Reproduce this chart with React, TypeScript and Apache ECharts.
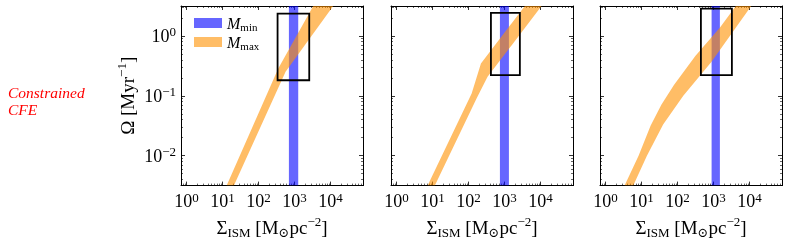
import React, { useEffect, useRef } from 'react';
import * as echarts from 'echarts';

// Axis ranges
const X_MIN = 0.7;
const X_MAX = 8e4;
const Y_MIN = 0.003162;
const Y_MAX = 3.162;

// M_max band (orange): upper/left edge and lower/right edge, [Σ_ISM, Ω]
const band1Upper = [[13.0, Y_MIN], [353, 0.286], [3310, Y_MAX]];
const band1Lower = [[20.7, Y_MIN], [564, 0.251], [11900, Y_MAX]];
const band2Upper = [[7.3, Y_MIN], [122, 0.109], [221, 0.346], [3680, Y_MAX]];
const band2Lower = [[11.6, Y_MIN], [167, 0.0903], [338, 0.2075], [10700, Y_MAX]];
const band3Upper = [[3.38, Y_MIN], [8.26, 0.01], [17.8, 0.0316], [35.5, 0.0708], [79.4, 0.151], [316, 0.468], [1514, 1.38], [4170, Y_MAX]];
const band3Lower = [[5.89, Y_MIN], [14.1, 0.01], [39.8, 0.0331], [144.5, 0.1], [881, 0.3715], [11170, Y_MAX]];

// M_min band (blue): Σ_ISM range
const mmin1 = [698, 1268];
const mmin2 = [745, 1325];
const mmin3 = [884, 1503];

// Constraint boxes: [Σ_lo, Ω_lo, Σ_hi, Ω_hi]
const box1 = [338, 0.182, 2565, 2.36];
const box2 = [419, 0.221, 2670, 2.42];
const box3 = [446, 0.221, 3240, 2.86];

const xTickExps = [0, 1, 2, 3, 4];
const yTickExps = [-2, -1, 0];

const SERIF = '"Liberation Serif", "DejaVu Serif", serif';
const BLUE = 'rgba(0,0,255,0.6)';
const ORANGE = 'rgba(255,145,0,0.6)';

const GRID_LEFTS = [181, 391, 600];

const supText = (e: number) => (e < 0 ? '\u2212' + -e : String(e));

function tickFormatter(allowed: number[]) {
  return (v: number) => {
    const e = Math.log10(v);
    const r = Math.round(e);
    if (Math.abs(e - r) > 1e-6 || allowed.indexOf(r) < 0) return '';
    return `{b|10}{s|${supText(r)}}`;
  };
}

const tickRich = {
  b: { fontSize: 18, lineHeight: 21, color: '#000', fontFamily: SERIF },
  s: { fontSize: 13, lineHeight: 13, verticalAlign: 'top', color: '#000', fontFamily: SERIF },
};

function bandSeries(p: number, name: string, upper: number[][], lower: number[][]) {
  return {
    type: 'custom',
    name,
    coordinateSystem: 'cartesian2d',
    xAxisIndex: 2 * p,
    yAxisIndex: 2 * p,
    clip: true,
    z: 3,
    itemStyle: { color: ORANGE },
    data: [[upper[0][0], upper[0][1]]],
    renderItem: (_params: any, api: any) => {
      const pts = upper.concat(lower.slice().reverse()).map((d) => api.coord(d));
      return { type: 'polygon', shape: { points: pts }, style: { fill: ORANGE } };
    },
  };
}

function mminSeries(p: number, name: string, range: number[]) {
  return {
    type: 'custom',
    name,
    coordinateSystem: 'cartesian2d',
    xAxisIndex: 2 * p,
    yAxisIndex: 2 * p,
    clip: true,
    z: 2,
    itemStyle: { color: BLUE },
    data: [[range[0], range[1]]],
    renderItem: (_params: any, api: any) => {
      const a = api.coord([api.value(0), Y_MAX]);
      const b = api.coord([api.value(1), Y_MIN]);
      return { type: 'rect', shape: { x: a[0], y: a[1], width: b[0] - a[0], height: b[1] - a[1] }, style: { fill: BLUE } };
    },
  };
}

function boxSeries(p: number, box: number[]) {
  return {
    type: 'custom',
    name: 'box' + p,
    coordinateSystem: 'cartesian2d',
    xAxisIndex: 2 * p,
    yAxisIndex: 2 * p,
    z: 4,
    data: [box],
    renderItem: (_params: any, api: any) => {
      const a = api.coord([api.value(0), api.value(3)]);
      const b = api.coord([api.value(2), api.value(1)]);
      return {
        type: 'rect',
        shape: { x: a[0], y: a[1], width: b[0] - a[0], height: b[1] - a[1] },
        style: { fill: 'none', stroke: '#000', lineWidth: 1.8 },
      };
    },
  };
}

function makeXAxis(p: number, top: boolean) {
  return {
    type: 'log',
    logBase: 10,
    gridIndex: p,
    min: X_MIN,
    max: X_MAX,
    position: top ? 'top' : 'bottom',
    axisLine: { show: true, onZero: false, lineStyle: { color: '#000', width: 1 } },
    axisTick: { show: true, inside: true, length: 4, lineStyle: { color: '#000', width: 0.8 } },
    minorTick: { show: true, splitNumber: 9, length: 2, lineStyle: { color: '#000', width: 0.6 } },
    splitLine: { show: false },
    axisLabel: top
      ? { show: false }
      : { show: true, margin: 5, showMinLabel: false, showMaxLabel: false, formatter: tickFormatter(xTickExps), rich: tickRich },
    name: top ? '' : '{n|\u03A3}{s|ISM}{n| [M}{s|\u2299}{n|pc}{p|\u22122}{n|]}',
    nameLocation: 'middle',
    nameGap: 22,
    nameTextStyle: {
      rich: {
        n: { fontSize: 19, lineHeight: 24, color: '#000', fontFamily: SERIF },
        s: { fontSize: 13, lineHeight: 13, verticalAlign: 'bottom', color: '#000', fontFamily: SERIF },
        p: { fontSize: 13, lineHeight: 13, verticalAlign: 'top', color: '#000', fontFamily: SERIF },
      },
    },
  };
}

function makeYAxis(p: number, right: boolean) {
  const showLabels = p === 0 && !right;
  return {
    type: 'log',
    logBase: 10,
    gridIndex: p,
    min: Y_MIN,
    max: Y_MAX,
    position: right ? 'right' : 'left',
    axisLine: { show: true, onZero: false, lineStyle: { color: '#000', width: 1 } },
    axisTick: { show: true, inside: true, length: 4, lineStyle: { color: '#000', width: 0.8 } },
    minorTick: { show: true, splitNumber: 9, length: 2, lineStyle: { color: '#000', width: 0.6 } },
    splitLine: { show: false },
    axisLabel: showLabels
      ? { show: true, margin: 5, showMinLabel: false, showMaxLabel: false, formatter: tickFormatter(yTickExps), rich: tickRich }
      : { show: false },
    name: showLabels ? '{n|\u03A9 [Myr}{p|\u22121}{n|]}' : '',
    nameLocation: 'middle',
    nameGap: 42,
    nameTextStyle: {
      rich: {
        n: { fontSize: 19, lineHeight: 24, color: '#000', fontFamily: SERIF },
        p: { fontSize: 13, lineHeight: 13, verticalAlign: 'top', color: '#000', fontFamily: SERIF },
      },
    },
  };
}

export default function App() {
  const ref = useRef<HTMLDivElement>(null);
  useEffect(() => {
    if (!ref.current) return;
    const chart = echarts.init(ref.current, undefined, { renderer: 'svg' });
    const grids = GRID_LEFTS.map((l) => ({ left: l, top: 6, width: 182, height: 180.5, show: false }));
    const xAxes: any[] = [];
    const yAxes: any[] = [];
    for (let p = 0; p < 3; p++) {
      xAxes.push(makeXAxis(p, false), makeXAxis(p, true));
      yAxes.push(makeYAxis(p, false), makeYAxis(p, true));
    }
    const option: any = {
      animation: false,
      textStyle: { fontFamily: SERIF },
      title: {
        text: 'Constrained\nCFE',
        left: 8,
        top: 84,
        padding: 0,
        textStyle: { color: '#ff0000', fontStyle: 'italic', fontWeight: 'normal', fontFamily: SERIF, fontSize: 15.5, lineHeight: 17 },
      },
      legend: {
        show: true,
        orient: 'vertical',
        left: 194,
        top: 15,
        padding: 0,
        itemWidth: 28,
        itemHeight: 10,
        itemGap: 2,
        icon: 'rect',
        selectedMode: false,
        data: ['Mmin', 'Mmax'],
        formatter: (n: string) => (n === 'Mmin' ? '{m|M}{s|min}' : '{m|M}{s|max}'),
        textStyle: {
          rich: {
            m: { fontSize: 16, lineHeight: 18, fontStyle: 'italic', color: '#000', fontFamily: SERIF },
            s: { fontSize: 11, lineHeight: 11, verticalAlign: 'bottom', color: '#000', fontFamily: SERIF },
          },
        },
      },
      grid: grids,
      xAxis: xAxes,
      yAxis: yAxes,
      series: [
        mminSeries(0, 'Mmin', mmin1),
        bandSeries(0, 'Mmax', band1Upper, band1Lower),
        boxSeries(0, box1),
        mminSeries(1, 'Mmin2', mmin2),
        bandSeries(1, 'Mmax2', band2Upper, band2Lower),
        boxSeries(1, box2),
        mminSeries(2, 'Mmin3', mmin3),
        bandSeries(2, 'Mmax3', band3Upper, band3Lower),
        boxSeries(2, box3),
      ],
    };
    chart.setOption(option);
    return () => chart.dispose();
  }, []);
  return <div ref={ref} style={{ position: 'fixed', left: 0, top: 0, width: 789, height: 244 }} />;
}
